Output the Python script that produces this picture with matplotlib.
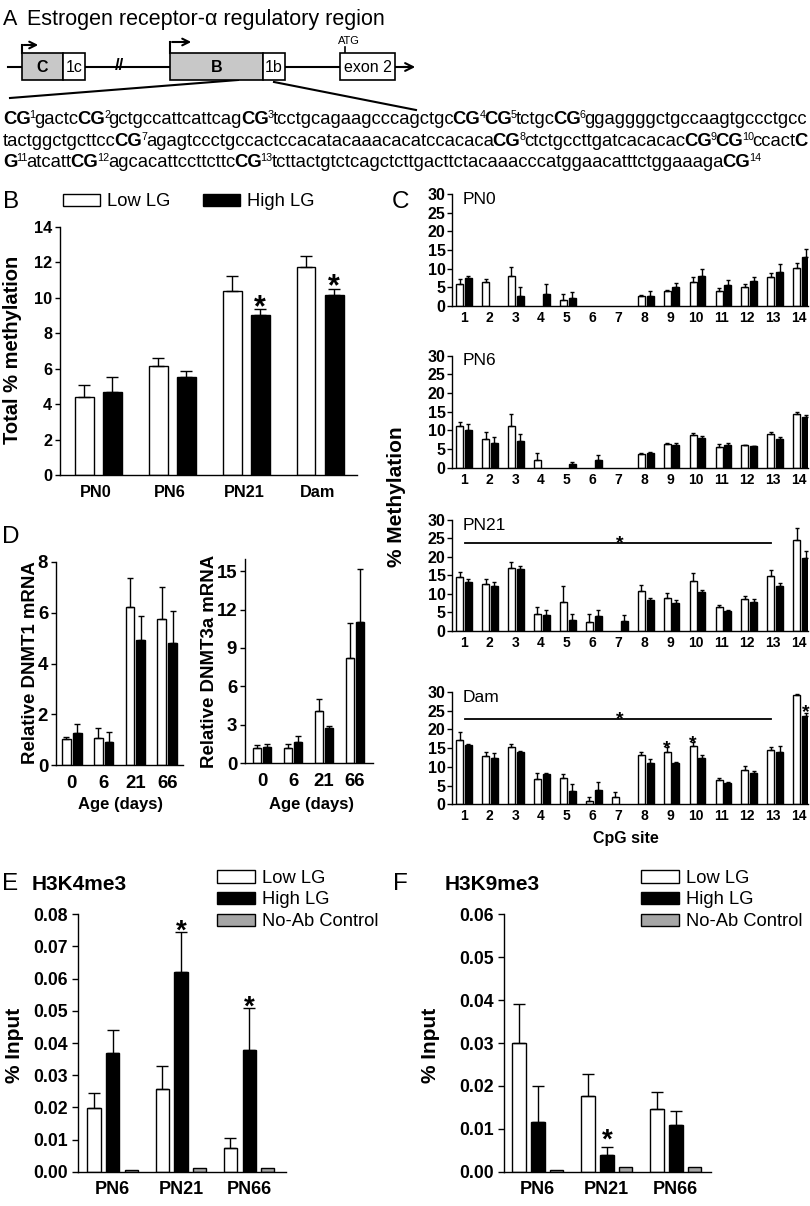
import re
import numpy as np
import matplotlib
matplotlib.use("Agg")
import matplotlib.pyplot as plt
from matplotlib.patches import Rectangle, Patch

W, H = 810, 1206
plt.rcParams["font.family"] = ["Liberation Sans", "DejaVu Sans"]
plt.rcParams["axes.linewidth"] = 1.0

nan = np.nan

# ---------------- data ----------------
# B: total % methylation
b_groups = ["PN0", "PN6", "PN21", "Dam"]
b_low = [4.4, 6.15, 10.4, 11.75]
b_low_err = [0.65, 0.45, 0.8, 0.6]
b_high = [4.7, 5.5, 9.0, 10.15]
b_high_err = [0.85, 0.35, 0.35, 0.35]
b_sig = [False, False, True, True]

# C: % methylation per CpG site
cpg_sites = list(range(1, 15))
c_titles = ["PN0", "PN6", "PN21", "Dam"]
pn0_low = [5.9, 6.3, 8.1, nan, 1.6, nan, nan, 2.6, 3.9, 6.5, 4.1, 5.2, 7.7, 10.1]
pn0_low_err = [1.3, 0.9, 2.3, nan, 1.5, nan, nan, 0.4, 0.4, 1.2, 0.6, 0.8, 1.1, 1.4]
pn0_high = [7.6, nan, 2.7, 3.1, 2.1, nan, nan, 2.7, 5.2, 8.1, 5.6, 6.7, 9.0, 13.1]
pn0_high_err = [0.5, nan, 2.5, 2.8, 1.7, nan, nan, 1.2, 0.9, 1.7, 1.4, 1.1, 2.2, 2.2]
pn6_low = [11.2, 7.6, 11.2, 2.0, nan, nan, nan, 3.7, 6.4, 8.7, 5.6, 6.0, 9.0, 14.4]
pn6_low_err = [0.9, 2.0, 3.1, 1.8, nan, nan, nan, 0.2, 0.3, 0.5, 0.8, 0.2, 0.5, 0.6]
pn6_high = [10.1, 6.7, 7.1, nan, 0.9, 2.1, nan, 3.9, 6.1, 8.0, 6.0, 5.7, 7.8, 13.5]
pn6_high_err = [1.5, 1.6, 1.8, nan, 0.6, 1.2, nan, 0.3, 0.6, 0.4, 0.5, 0.2, 0.3, 0.7]
pn21_low = [14.6, 12.7, 17.0, 4.5, 7.9, 2.3, nan, 10.7, 8.9, 13.6, 6.3, 8.5, 14.7, 24.6]
pn21_low_err = [1.2, 1.3, 1.7, 1.9, 4.2, 2.2, nan, 1.8, 1.3, 2.0, 0.6, 0.9, 1.7, 3.3]
pn21_high = [13.1, 12.2, 16.6, 4.2, 3.0, 4.0, 2.7, 8.2, 7.4, 10.4, 5.4, 7.9, 12.1, 19.6]
pn21_high_err = [0.9, 0.9, 0.8, 1.3, 1.4, 1.5, 1.5, 0.7, 0.8, 0.7, 0.3, 0.6, 0.8, 1.9]
dam_low = [17.3, 13.0, 15.4, 6.7, 7.0, 1.0, 1.9, 13.3, 14.1, 15.7, 6.5, 9.1, 14.5, 29.1]
dam_low_err = [1.9, 1.0, 0.7, 1.6, 1.1, 1.0, 1.3, 0.7, 1.3, 1.0, 0.5, 1.1, 0.7, 0.4]
dam_high = [15.8, 12.5, 13.9, 8.0, 3.5, 3.7, nan, 11.1, 11.1, 12.5, 5.6, 8.3, 13.9, 23.5]
dam_high_err = [0.3, 1.1, 0.4, 0.4, 1.9, 2.2, nan, 1.1, 0.3, 0.6, 0.4, 0.6, 1.6, 0.9]
dam_low_sig = [9, 10]
dam_high_sig = [14]
c_bracket = {"PN21": 23.7, "Dam": 22.9}

# D: DNMT mRNA
d_ages = ["0", "6", "21", "66"]
dnmt1_low = [1.01, 1.05, 6.23, 5.74]
dnmt1_low_err = [0.10, 0.39, 1.14, 1.29]
dnmt1_high = [1.25, 0.92, 4.92, 4.81]
dnmt1_high_err = [0.35, 0.38, 0.96, 1.25]
dnmt3a_low = [1.15, 1.15, 4.1, 8.22]
dnmt3a_low_err = [0.26, 0.31, 0.9, 2.71]
dnmt3a_high = [1.28, 1.67, 2.74, 11.0]
dnmt3a_high_err = [0.21, 0.44, 0.18, 4.16]

# E / F: ChIP % input
chip_groups = ["PN6", "PN21", "PN66"]
e_low = [0.0197, 0.0256, 0.0073]
e_low_err = [0.0047, 0.0074, 0.0033]
e_high = [0.0368, 0.0622, 0.0378]
e_high_err = [0.0072, 0.0124, 0.0130]
e_ctrl = [0.0005, 0.0012, 0.0013]
e_sig = [False, True, True]
f_low = [0.0299, 0.0177, 0.0146]
f_low_err = [0.0093, 0.0050, 0.0039]
f_high = [0.0117, 0.0040, 0.0110]
f_high_err = [0.0083, 0.0018, 0.0031]
f_ctrl = [0.0005, 0.0012, 0.0012]
f_sig = [False, True, False]

seq_rows = [
    "*CG*^1^gactc*CG*^2^gctgccattcattcag*CG*^3^tcctgcagaagcccagctgc*CG*^4^*CG*^5^tctgc*CG*^6^ggaggggctgccaagtgccctgcc",
    "tactggctgcttcc*CG*^7^agagtccctgccactccacatacaaacacatccacaca*CG*^8^ctctgccttgatcacacac*CG*^9^*CG*^10^ccact*C*",
    "*G*^11^atcatt*CG*^12^agcacattccttcttc*CG*^13^tcttactgtctcagctcttgacttctacaaacccatggaacatttctggaaaga*CG*^14^",
]

GREY = "#a6a6a6"
SEQ_FONT = ["Liberation Sans Narrow", "Liberation Sans", "DejaVu Sans"]

fig = plt.figure(figsize=(W / 100, H / 100), dpi=100)
ov = fig.add_axes([0, 0, 1, 1])
ov.set_xlim(0, W)
ov.set_ylim(H, 0)
ov.axis("off")


def px_axes(left, top, right, bottom):
    return fig.add_axes([left / W, 1 - bottom / H, (right - left) / W, (bottom - top) / H])


def style(ax, yticks, ylabels, ysize, xpos, xlabels, xsize, xpad, ylen=3.6, ypad=2):
    for s in ("top", "right"):
        ax.spines[s].set_visible(False)
    ax.set_yticks(yticks, ylabels, fontsize=ysize, fontweight="bold")
    ax.set_xticks(xpos, xlabels, fontsize=xsize, fontweight="bold")
    ax.tick_params(axis="x", length=0, pad=xpad)
    ax.tick_params(axis="y", length=ylen, width=1, pad=ypad, direction="out")
    ax.patch.set_alpha(0)


def bars(ax, x, vals, errs, width, color, capsize):
    x = np.asarray(x, float)
    vals = np.asarray(vals, float)
    errs = np.asarray(errs, float)
    ok = ~np.isnan(vals)
    ax.bar(x[ok], vals[ok], width, color=color, edgecolor="black", linewidth=1.0, zorder=2)
    ax.errorbar(x[ok], vals[ok], yerr=[np.zeros(ok.sum()), errs[ok]], fmt="none",
                ecolor="black", elinewidth=1.0, capsize=capsize, capthick=1.0, zorder=3)


def star(ax, x, top, size, gap_px):
    ax.annotate("*", xy=(x, top), xytext=(0, gap_px * 0.72 - 0.42 * size),
                textcoords="offset points", ha="center", va="baseline",
                fontsize=size, fontweight="bold", annotation_clip=False)


# ---------------- A: schematic ----------------
ov.text(3, 25, "A", fontsize=15.5, va="baseline")
ov.text(27, 25, "Estrogen receptor-\u03b1 regulatory region", fontsize=15.5, va="baseline")
ov.plot([8, 405], [67, 67], color="black", lw=1.5)
ov.annotate("", xy=(418, 67), xytext=(400, 67),
            arrowprops=dict(arrowstyle="->", lw=1.5, color="black", mutation_scale=14))
for x0, x1, fc, lab, wt in [(21.7, 63, "#c8c8c8", "C", "bold"), (63, 85, "white", "1c", "normal"),
                            (170, 263, "#c8c8c8", "B", "bold"), (263, 285, "white", "1b", "normal"),
                            (340, 395, "white", "exon 2", "normal")]:
    ov.add_patch(Rectangle((x0, 53), x1 - x0, 27, facecolor=fc, edgecolor="black", lw=1.2, zorder=3))
    ov.text((x0 + x1) / 2, 67, lab, ha="center", va="center", fontsize=11.5, fontweight=wt, zorder=4)
ov.text(119, 66, "//", ha="center", va="center", fontsize=12, fontweight="bold")
for xs, ys, xe in [(21.7, 45, 41), (170, 42, 194)]:
    ov.plot([xs, xs], [53, ys], color="black", lw=1.5)
    ov.annotate("", xy=(xe, ys), xytext=(xs - 0.7, ys),
                arrowprops=dict(arrowstyle="->", lw=1.5, color="black", mutation_scale=12))
ov.text(349, 44, "ATG", ha="center", va="baseline", fontsize=8)
ov.plot([345, 345], [47, 53], color="black", lw=1.2)
ov.plot([238, 10], [80, 98], color="black", lw=1.5)
ov.plot([274, 416], [82, 110], color="black", lw=1.5)

renderer = fig.canvas.get_renderer()


def parse(row):
    return re.findall(r"\*([^*]+)\*|\^([^\^]+)\^|([^*\^]+)", row)


def draw_row(tokens, x0, base, size):
    x = x0
    made = []
    for bold, sup, plain in tokens:
        if sup:
            t = ov.text(x, base - 0.30 * size / 0.72, sup, fontsize=0.58 * size,
                        va="baseline", ha="left", family=SEQ_FONT)
        elif bold:
            t = ov.text(x, base, bold, fontsize=size, fontweight="bold",
                        va="baseline", ha="left", family=SEQ_FONT)
        else:
            t = ov.text(x, base, plain, fontsize=size, va="baseline", ha="left", family=SEQ_FONT)
        x += t.get_window_extent(renderer).width - 1.2
        made.append(t)
    return x, made


end, tmp = draw_row(parse(seq_rows[0]), 3, 124, 13)
for t in tmp:
    t.remove()
seq_size = 13 * (806 - 3) / (end - 3)
for i, row in enumerate(seq_rows):
    draw_row(parse(row), 3, 124 + 21.5 * i, seq_size)

# ---------------- B ----------------
ov.text(3, 208, "B", fontsize=17.5, va="baseline")
ax_b = px_axes(60, 226.7, 357, 475)
xb = np.arange(len(b_groups))
bars(ax_b, xb - 0.19, b_low, b_low_err, 0.255, "white", 4.5)
bars(ax_b, xb + 0.19, b_high, b_high_err, 0.255, "black", 4.5)
ax_b.set_xlim(-0.52, 3.5)
ax_b.set_ylim(0, 14)
style(ax_b, list(range(0, 15, 2)), [str(v) for v in range(0, 15, 2)], 11.7, xb - 0.03, b_groups, 11.7, 7)
for i, s in enumerate(b_sig):
    if s:
        star(ax_b, xb[i] + 0.19, b_high[i] + b_high_err[i], 22, 6)
ax_b.legend([Patch(facecolor="white", edgecolor="black"), Patch(facecolor="black", edgecolor="black")],
            ["Low LG", "High LG"], loc="center left", bbox_to_anchor=(63 / W, 1 - 202 / H),
            bbox_transform=fig.transFigure, ncol=2, frameon=False, fontsize=13.2,
            handlelength=2.0, handleheight=0.6, handletextpad=0.4, columnspacing=1.8,
            borderpad=0, borderaxespad=0)
ov.text(13, 350, "Total % methylation", rotation=90, ha="center", va="center", fontsize=14.5, fontweight="bold")

# ---------------- C ----------------
ov.text(392, 208, "C", fontsize=17.5, va="baseline")
c_rects = [(194, 306), (355.5, 467.7), (520, 630.7), (692, 804.3)]
c_data = [(pn0_low, pn0_low_err, pn0_high, pn0_high_err),
          (pn6_low, pn6_low_err, pn6_high, pn6_high_err),
          (pn21_low, pn21_low_err, pn21_high, pn21_high_err),
          (dam_low, dam_low_err, dam_high, dam_high_err)]
xs = np.array(cpg_sites, float)
for k, (top, bottom) in enumerate(c_rects):
    ax = px_axes(452, top, 808, bottom)
    low, low_err, high, high_err = c_data[k]
    bars(ax, xs - 0.17, low, low_err, 0.27, "white", 1.6)
    bars(ax, xs + 0.17, high, high_err, 0.27, "black", 1.6)
    ax.set_xlim(0.537, 14.26)
    ax.set_ylim(0, 30)
    style(ax, list(range(0, 31, 5)), [str(v) for v in range(0, 31, 5)], 11.5,
          xs - 0.05 * xs / 7, [str(s) for s in cpg_sites], 10, 3.6, ylen=3.6, ypad=1)
    ax.text(0.96, 30.6, c_titles[k], ha="left", va="top", fontsize=12.5)
    if c_titles[k] in c_bracket:
        yb = c_bracket[c_titles[k]]
        ax.plot([1.04, 12.83], [yb, yb], color="black", lw=1.3)
        star(ax, 7.0, yb, 14, 3)
    if c_titles[k] == "Dam":
        for s in dam_low_sig:
            star(ax, s - 0.17, dam_low[s - 1] + dam_low_err[s - 1], 14, 1.5)
        for s in dam_high_sig:
            star(ax, s + 0.17, dam_high[s - 1] + dam_high_err[s - 1], 14, 4)
ov.text(396, 497, "% Methylation", rotation=90, ha="center", va="center", fontsize=15, fontweight="bold")
ov.text(626, 839, "CpG site", ha="center", va="center", fontsize=11.5, fontweight="bold")

# ---------------- D ----------------
ov.text(2, 543, "D", fontsize=17.5, va="baseline")
xd = np.arange(len(d_ages))
ax_d1 = px_axes(56, 562, 183, 765)
bars(ax_d1, xd - 0.17, dnmt1_low, dnmt1_low_err, 0.27, "white", 2)
bars(ax_d1, xd + 0.17, dnmt1_high, dnmt1_high_err, 0.27, "black", 2)
ax_d1.set_xlim(-0.5, 3.5)
ax_d1.set_ylim(0, 8)
style(ax_d1, [0, 2, 4, 6, 8], ["0", "2", "4", "6", "8"], 13.4, xd, d_ages, 13.4, 7)
ax_d2 = px_axes(245, 558.5, 373, 763)
bars(ax_d2, xd - 0.17, dnmt3a_low, dnmt3a_low_err, 0.27, "white", 2)
bars(ax_d2, xd + 0.17, dnmt3a_high, dnmt3a_high_err, 0.27, "black", 2)
ax_d2.set_xlim(-0.55, 3.58)
ax_d2.set_ylim(0, 16)
style(ax_d2, [0, 3, 6, 9, 12, 15], ["0", "3", "6", "9", "12", "15"], 13.4, xd, d_ages, 13.4, 7)
ov.text(31, 663, "Relative DNMT1 mRNA", rotation=90, ha="center", va="center", fontsize=13.4, fontweight="bold")
ov.text(209, 661, "Relative DNMT3a mRNA", rotation=90, ha="center", va="center", fontsize=13.4, fontweight="bold")
ov.text(120.5, 805, "Age (days)", ha="center", va="center", fontsize=12, fontweight="bold")
ov.text(311.7, 805, "Age (days)", ha="center", va="center", fontsize=12, fontweight="bold")

# ---------------- E / F ----------------
legend_handles = [Patch(facecolor="white", edgecolor="black"), Patch(facecolor="black", edgecolor="black"),
                  Patch(facecolor=GREY, edgecolor="black")]
legend_labels = ["Low LG", "High LG", "No-Ab Control"]


def chip_panel(rect, low, low_err, high, high_err, ctrl, sig, ymax, leg_x, star_gap):
    ax = px_axes(*rect)
    xc = np.arange(len(chip_groups))
    bars(ax, xc - 0.275, low, low_err, 0.195, "white", 4.5)
    bars(ax, xc, high, high_err, 0.195, "black", 4.5)
    bars(ax, xc + 0.27, ctrl, [0] * len(ctrl), 0.195, GREY, 0)
    yt = np.arange(0, ymax + 1e-9, 0.01)
    style(ax, yt, ["%.2f" % v for v in yt], 12.7, xc, chip_groups, 13, 7, ylen=4.3, ypad=3)
    ax.set_ylim(0, ymax)
    for i, s in enumerate(sig):
        if s:
            star(ax, xc[i], high[i] + high_err[i], 20, star_gap)
    ax.legend(legend_handles, legend_labels, loc="center left", bbox_to_anchor=(leg_x / W, 1 - 900 / H),
              bbox_transform=fig.transFigure, frameon=False, fontsize=13.2, labelspacing=0.25,
              handlelength=2.08, handleheight=0.65, handletextpad=0.35, borderpad=0, borderaxespad=0)
    return ax


ax_e = chip_panel((78, 914.3, 286, 1171.7), e_low, e_low_err, e_high, e_high_err, e_ctrl, e_sig, 0.08, 217, 5)
ax_e.set_xlim(-0.51, 2.54)
ax_f = chip_panel((504, 914.3, 711, 1171.7), f_low, f_low_err, f_high, f_high_err, f_ctrl, f_sig, 0.06, 641, 11)
ax_f.set_xlim(-0.49, 2.51)
ov.text(2, 890, "E", fontsize=17.5, va="baseline")
ov.text(393, 890, "F", fontsize=17.5, va="baseline")
ov.text(32, 884, "H3K4me3", ha="left", va="center", fontsize=15, fontweight="bold")
ov.text(445, 884, "H3K9me3", ha="left", va="center", fontsize=15, fontweight="bold")
ov.text(14, 1045, "% Input", rotation=90, ha="center", va="center", fontsize=15, fontweight="bold")
ov.text(431, 1045, "% Input", rotation=90, ha="center", va="center", fontsize=15, fontweight="bold")

fig.savefig("out.png", dpi=100)
